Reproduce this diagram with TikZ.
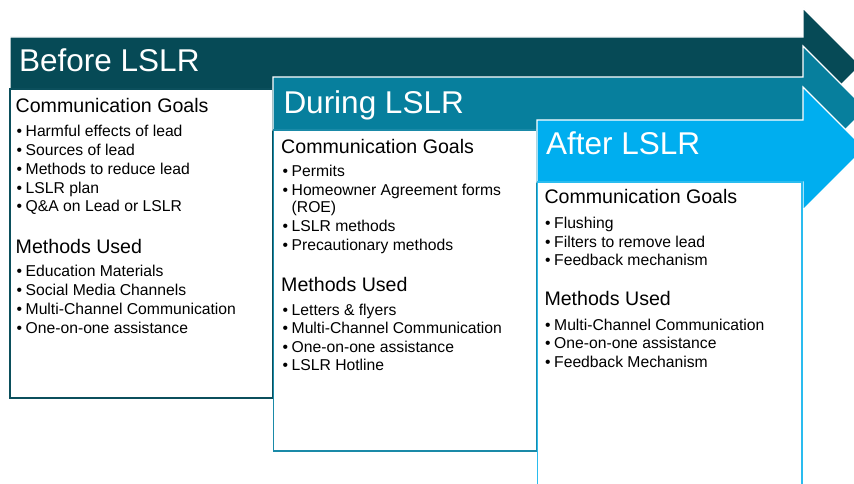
\documentclass[tikz,border=0pt]{standalone}
\usepackage{fontspec}
\setmainfont{Liberation Sans}
\definecolor{cdark}{HTML}{064A56}
\definecolor{cmid}{HTML}{077F9D}
\definecolor{clight}{HTML}{00AEEF}
\definecolor{bdark}{HTML}{0B4F5C}
\definecolor{bmid}{HTML}{1A8AA8}
\definecolor{blight}{HTML}{2ABCEF}
\tikzset{
  arrowshape/.style={draw=white, line width=1.2pt},
  panel/.style={fill=white, line width=1.6pt},
  title/.style={anchor=base west, inner sep=0pt, text=white, font=\fontsize{31.5}{38}\selectfont},
  head/.style={anchor=base west, inner sep=0pt, font=\fontsize{19.6}{23}\selectfont},
  item/.style={anchor=base west, inner sep=0pt, font=\fontsize{15.7}{18}\selectfont},
}
\newcommand{\bul}{\textbullet\hspace{3.5pt}}
\newcommand{\nobul}{\phantom{\textbullet}\hspace{3.5pt}}
\begin{document}
\begin{tikzpicture}[x=1pt,y=-1pt]
\useasboundingbox (0,0) rectangle (854,484);
\clip (0,0) rectangle (854,484);
% Before arrow and panel
\fill[cdark, arrowshape] (10,37) -- (803,37) -- (803,8) -- (860.5,65.5) -- (803,123) -- (803,89) -- (10,89) -- cycle;
\draw[panel, draw=bdark] (10,89) rectangle (272.5,398);
% During arrow and panel
\fill[cmid, arrowshape] (273,77) -- (803,77) -- (803,46) -- (866,109) -- (803,172) -- (803,130) -- (273,130) -- cycle;
\draw[panel, draw=bmid] (273.5,130) rectangle (537,451);
% After arrow and panel
\fill[clight, arrowshape] (537,120) -- (803,120) -- (803,87) -- (864.5,148.5) -- (803,210) -- (803,182) -- (537,182) -- cycle;
\draw[panel, draw=blight] (537.5,182) rectangle (802,500);

% Before texts
\node[title] (bt) at (19,71.7) {Before LSLR};
\node[head] (bg) at (15.5,112.7) {Communication Goals};
\node[item] (b1) at (16.5,136.7) {\bul Harmful effects of lead};
\node[item] (b2) at (16.5,155.5) {\bul Sources of lead};
\node[item] (b3) at (16.5,174.3) {\bul Methods to reduce lead};
\node[item] (b4) at (16.5,193.1) {\bul LSLR plan};
\node[item] (b5) at (16.5,211.9) {\bul Q\&A on Lead or LSLR};
\node[head] (bm) at (15.5,253.3) {Methods Used};
\node[item] (b6) at (16.5,276.7) {\bul Education Materials};
\node[item] (b7) at (16.5,295.5) {\bul Social Media Channels};
\node[item] (b8) at (16.5,314.3) {\bul Multi-Channel Communication};
\node[item] (b9) at (16.5,333.1) {\bul One-on-one assistance};

% During texts
\node[title] (dt) at (283.3,113.3) {During LSLR};
\node[head] (dg) at (281,153.3) {Communication Goals};
\node[item] (d1) at (282.5,176.7) {\bul Permits};
\node[item] (d2) at (282.5,195.3) {\bul Homeowner Agreement forms};
\node[item] (d3) at (282.5,212.3) {\nobul(ROE)};
\node[item] (d4) at (282.5,231.5) {\bul LSLR methods};
\node[item] (d5) at (282.5,250.3) {\bul Precautionary methods};
\node[head] (dm) at (281,291.7) {Methods Used};
\node[item] (d6) at (282.5,315) {\bul Letters \& flyers};
\node[item] (d7) at (282.5,333.6) {\bul Multi-Channel Communication};
\node[item] (d8) at (282.5,352.2) {\bul One-on-one assistance};
\node[item] (d9) at (282.5,370.8) {\bul LSLR Hotline};

% After texts
\node[title] (at) at (546,155) {After LSLR};
\node[head] (ag) at (544.3,203.3) {Communication Goals};
\node[item] (a1) at (545,228.3) {\bul Flushing};
\node[item] (a2) at (545,247.1) {\bul Filters to remove lead};
\node[item] (a3) at (545,265.9) {\bul Feedback mechanism};
\node[head] (am) at (544.3,305) {Methods Used};
\node[item] (a4) at (545,330) {\bul Multi-Channel Communication};
\node[item] (a5) at (545,348.8) {\bul One-on-one assistance};
\node[item] (a6) at (545,367.6) {\bul Feedback Mechanism};
\end{tikzpicture}
\end{document}
